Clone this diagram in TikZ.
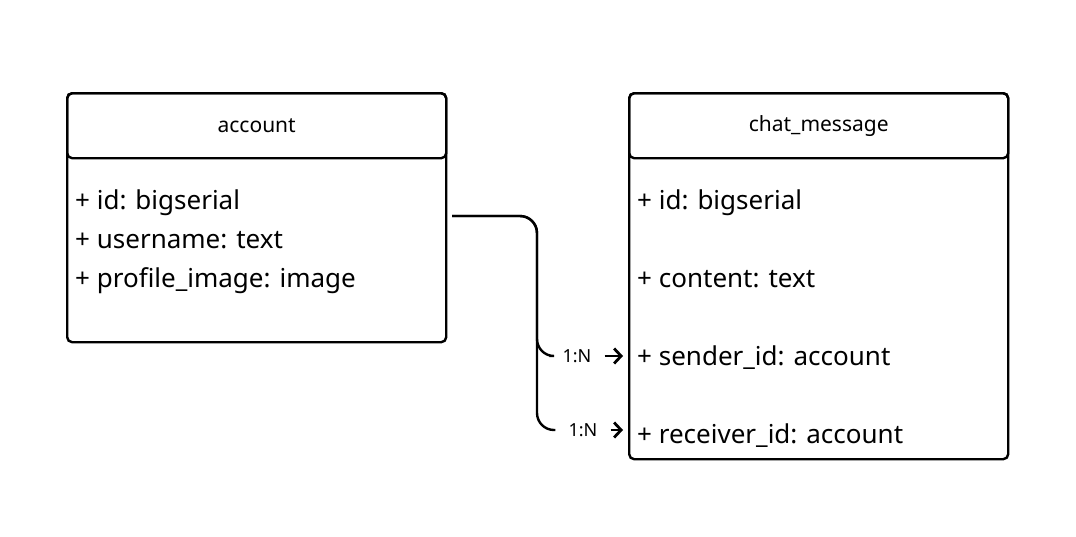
\documentclass[tikz,border=0pt]{standalone}
\usepackage{fontspec}
\setmainfont{Noto Sans}
\usetikzlibrary{arrows.meta,positioning}

\begin{document}
\begin{tikzpicture}[x=1pt,y=-1pt,line width=2.4pt,>={Straight Barb[length=7pt,width=15pt,line width=2.8pt]}]
  \tikzstyle{entity}=[draw,rounded corners=5pt,anchor=north west,inner sep=0pt,minimum width=379pt]
  \tikzstyle{head}=[entity,minimum height=65pt,font=\fontsize{21}{21}\selectfont]
  \tikzstyle{field}=[anchor=base west,inner xsep=0pt,font=\fontsize{26}{26}\selectfont]
  \tikzstyle{card}=[inner xsep=12pt,font=\fontsize{18}{18}\selectfont]
  \tikzstyle{link}=[rounded corners=17pt]
  \useasboundingbox (0,0) rectangle (1076,536);

	\node[entity, minimum height=249pt] (account) at (66,92) {};
	\node[head] (account_head) at (66,92) {account};
	\node[field] (acc_id) at (74,209) {+ id: bigserial};
	\node[field] (acc_name) at (74,248) {+ username: text};
	\node[field] (acc_image) at (74,287) {+ profile\_image: image};

	\node[entity, minimum height=366pt] (message) at (628,92) {};
	\node[head] (message_head) at (628,92) {chat\_message};
	\node[field] (msg_id) at (636,209) {+ id: bigserial};
	\node[field] (msg_content) at (636,287) {+ content: text};
	\node[field] (sender) at (636,365) {+ sender\_id: account};
	\node[field] (receiver) at (636,443) {+ receiver\_id: account};

	\coordinate (src) at (452,216);
	\coordinate (bend) at (537,216);
	\node[card] (card_1) at (577,356) {1:N};
	\node[card] (card_2) at (583,430) {1:N};

	\draw[link] (src) -- (bend) |- (card_1.west);
	\draw[link] (src) -- (bend) |- (card_2.west);
	\draw[->,line width=2.6pt,shorten >=13pt] (card_1.east) -- (card_1.east -| sender.west);
	\draw[->,line width=2.6pt,shorten >=13pt] (card_2.east) -- (card_2.east -| receiver.west);
\end{tikzpicture}
\end{document}
